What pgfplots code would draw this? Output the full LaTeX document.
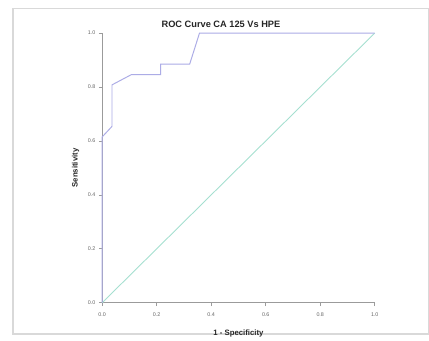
\documentclass[border=0pt]{standalone}
\usepackage{pgfplots}
\pgfplotsset{compat=1.18}
\usepackage{fontspec}
\setmainfont{Liberation Sans}
\definecolor{roc}{RGB}{172,172,230}
\definecolor{refl}{RGB}{165,224,208}
\definecolor{axg}{RGB}{155,155,155}
\begin{document}
\begin{tikzpicture}[x=1pt,y=1pt]
\fill[white] (0,0) rectangle (429,348);
\draw[gray!30, line width=1.5pt] (13.5,5) rectangle (440,339);
\node[font=\fontsize{9.5}{11}\selectfont\bfseries, text=black!85] at (227,323) {ROC Curve CA 125 Vs HPE};
\begin{axis}[
  at={(105pt,37pt)}, anchor=origin,
  scale only axis, width=280pt, height=277pt,
  xmin=0, xmax=1, ymin=0, ymax=1,
  axis x line*=bottom, axis y line*=left,
  axis line style={axg, -, line width=0.8pt},
  tick style={axg, line width=0.6pt},
  major tick length=3.5pt, tick align=outside,
  xtick={0,0.2,0.4,0.6,0.8,1}, ytick={0,0.2,0.4,0.6,0.8,1},
  ticklabel style={font=\fontsize{5.5}{6}\selectfont, text=black!60},
  /pgf/number format/assume math mode=true,
  xticklabel style={/pgf/number format/.cd, fixed, fixed zerofill, precision=1, /tikz/.cd, yshift=-3pt},
  yticklabel style={/pgf/number format/.cd, fixed, fixed zerofill, precision=1},
  xlabel={\bfseries 1 - Specificity}, ylabel={\bfseries Sensitivity},
  label style={font=\fontsize{8}{9}\selectfont, text=black!85},
  xlabel style={at={(ticklabel cs:0.5)}, anchor=north, yshift=-7pt},
  ylabel style={at={(ticklabel cs:0.5)}, anchor=south, yshift=2pt},
  clip=false,
]
\addplot[refl, line width=0.9pt] coordinates {(0,0) (1,1)};
\addplot[roc, line width=1pt] coordinates {
 (0,0) (0,0.615) (0.036,0.654) (0.036,0.808) (0.107,0.846) (0.214,0.846)
 (0.214,0.885) (0.321,0.885) (0.357,1) (1,1)};
\end{axis}
\useasboundingbox (0,0) rectangle (429,348);
\end{tikzpicture}
\end{document}
